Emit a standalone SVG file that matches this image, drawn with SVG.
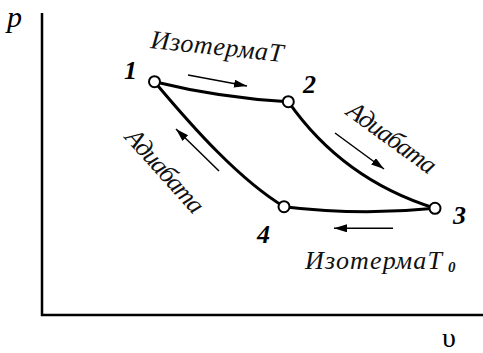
<svg xmlns="http://www.w3.org/2000/svg" width="483" height="353" viewBox="0 0 483 353">
<defs>
<marker id="ah" markerUnits="userSpaceOnUse" markerWidth="14" markerHeight="10" refX="13" refY="4" orient="auto">
<path d="M0,0 L13,4 L0,8 z" fill="#000"/>
</marker>
</defs>
<rect width="483" height="353" fill="#fff"/>
<g id="axes">
<path d="M42,13 V315 H483" stroke="#000" stroke-width="2.5" fill="none"/>
<text x="7" y="27" font-family="Times New Roman, Liberation Serif, serif" font-style="italic" font-size="30">p</text>
<text x="442" y="347" font-family="Times New Roman, Liberation Serif, serif" font-size="28">υ</text>
</g>
<g id="connectors" stroke="#000" stroke-width="3" fill="none">
<path d="M154.5,81.7 Q221,98 288.3,101.7"/>
<path d="M288.3,101.7 C315,140 360,185 435,208.3"/>
<path d="M284,206.7 Q360,216 435,208.3"/>
<path d="M154.5,81.7 C195,130 240,180 284,206.7"/>
</g>
<g id="arrows" stroke="#000" stroke-width="1.5" fill="none" marker-end="url(#ah)">
<path d="M188,75 L247,86"/>
<path d="M335,133 L384,169"/>
<path d="M219,171 L176,129"/>
<path d="M393,228.3 L334,228.3"/>
</g>
<g id="labels" fill="#111">
<text transform="translate(150,48) rotate(6)" font-family="Times New Roman, Liberation Serif, serif" font-style="italic" font-size="26" textLength="133">ИзотермаТ</text>
<text transform="translate(345,114) rotate(36)" font-family="Times New Roman, Liberation Serif, serif" font-style="italic" font-size="26" textLength="104">Адиабата</text>
<text transform="translate(124,138) rotate(48)" font-family="Times New Roman, Liberation Serif, serif" font-style="italic" font-size="26" textLength="104">Адиабата</text>
<text x="305" y="269" font-family="Times New Roman, Liberation Serif, serif" font-style="italic" font-size="26" textLength="137">ИзотермаТ</text>
<text x="448" y="272" font-family="Times New Roman, Liberation Serif, serif" font-style="italic" font-size="15" font-weight="bold">0</text>
</g>
<g id="node1"><circle cx="154.5" cy="81.7" r="5.5" fill="#fff" stroke="#000" stroke-width="2"/><text x="124" y="79" font-family="Times New Roman, Liberation Serif, serif" font-style="italic" font-weight="bold" font-size="26">1</text></g>
<g id="node2"><circle cx="288.3" cy="101.7" r="5.5" fill="#fff" stroke="#000" stroke-width="2"/><text x="303" y="93" font-family="Times New Roman, Liberation Serif, serif" font-style="italic" font-weight="bold" font-size="26">2</text></g>
<g id="node3"><circle cx="435" cy="208.3" r="5.5" fill="#fff" stroke="#000" stroke-width="2"/><text x="453" y="224" font-family="Times New Roman, Liberation Serif, serif" font-style="italic" font-weight="bold" font-size="26">3</text></g>
<g id="node4"><circle cx="284" cy="206.7" r="5.5" fill="#fff" stroke="#000" stroke-width="2"/><text x="257" y="243" font-family="Times New Roman, Liberation Serif, serif" font-style="italic" font-weight="bold" font-size="26">4</text></g>
</svg>
